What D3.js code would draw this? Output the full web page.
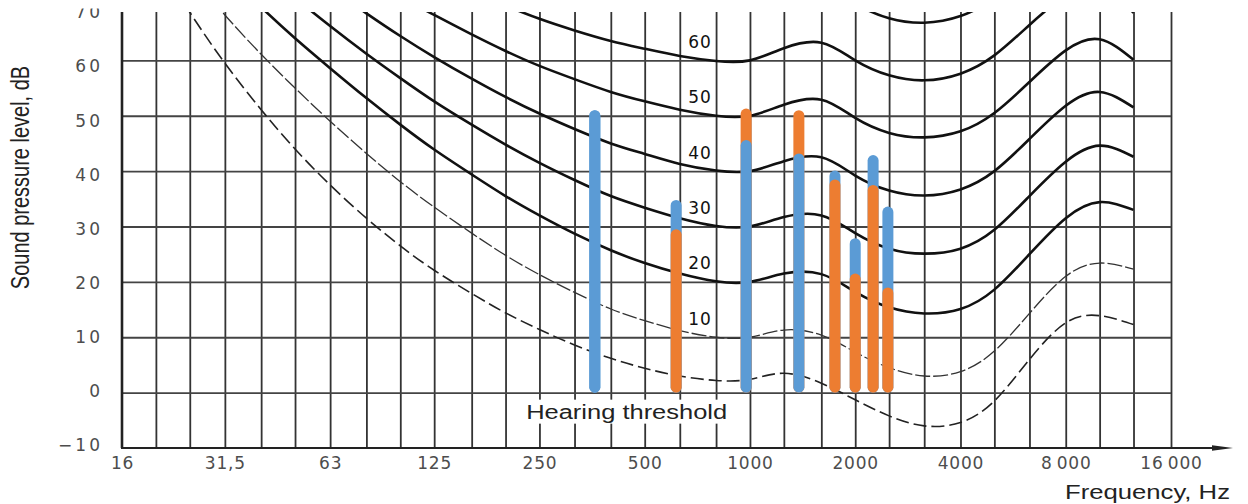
<!DOCTYPE html>
<html lang="en">
<head>
<meta charset="UTF-8">
<title>Equal loudness contours</title>
<script src="https://cdnjs.cloudflare.com/ajax/libs/d3/7.8.5/d3.min.js"></script>
<style>
  body { margin: 0; background: #fff; }
  svg { display: block; background: #fff; }
  .tick-lbl text { font-family: "DejaVu Sans", sans-serif; font-size: 17px; fill: #4d4d4d; }
  .curve-lbl { font-family: "DejaVu Sans", sans-serif; font-size: 17px; fill: #111; letter-spacing: 1px; }
  .title { font-family: "Liberation Sans", Arial, sans-serif; font-size: 20px; fill: #222; }
</style>
</head>
<body>
<svg width="1248" height="504"></svg>
<script>
// third-octave frequencies of the contour tables
var freqs = [20, 25, 31.5, 40, 50, 63, 80, 100, 125, 160, 200, 250, 315, 400, 500, 630, 800,
             1000, 1250, 1600, 2000, 2500, 3150, 4000, 5000, 6300, 8000, 10000, 12500];

var threshold = [78.5, 68.7, 59.5, 51.1, 44.0, 37.5, 31.5, 26.5, 22.1, 17.9, 14.4, 11.4, 8.6, 6.2, 4.4, 3.0, 2.2,
                 2.4, 3.5, 1.7, -1.3, -4.2, -6.0, -5.4, -1.5, 6.0, 12.6, 13.9, 12.3];
var phon10 = [83.8, 75.8, 68.2, 61.1, 55.0, 49.0, 43.2, 38.1, 33.5, 28.8, 24.8, 21.3, 18.1, 15.1, 13.0, 11.2, 10.0,
              10.0, 11.3, 10.4, 7.3, 4.5, 3.0, 3.8, 7.5, 14.3, 21.0, 23.4, 22.3];
var phon20 = [89.6, 82.7, 76.0, 69.6, 64.0, 58.6, 53.2, 48.4, 43.9, 39.4, 35.5, 32.0, 28.7, 25.7, 23.4, 21.5, 20.1,
              20.0, 21.5, 21.4, 18.2, 15.4, 14.3, 15.1, 18.6, 25.0, 31.5, 34.4, 33.0];
var phon30 = [94.9, 88.5, 82.4, 76.5, 71.3, 66.2, 61.2, 56.8, 52.6, 48.4, 44.8, 41.5, 38.4, 35.5, 33.4, 31.5, 30.1,
              30.0, 31.7, 32.0, 28.8, 26.0, 25.1, 26.0, 29.4, 35.5, 41.7, 44.6, 42.6];
var phon40 = [99.9, 93.9, 88.2, 82.6, 77.8, 73.1, 68.5, 64.4, 60.6, 56.7, 53.4, 50.4, 47.6, 45.0, 43.1, 41.3, 40.1,
              40.0, 41.8, 42.5, 39.2, 36.5, 35.6, 36.7, 40.0, 45.8, 51.8, 54.3, 51.5];
var phon50 = [104.7, 99.2, 93.7, 88.5, 84.0, 79.6, 75.4, 71.6, 68.2, 64.7, 61.7, 59.0, 56.6, 54.3, 52.6, 51.1, 50.0,
              50.0, 52.0, 52.9, 49.6, 46.9, 46.1, 47.2, 50.5, 56.1, 61.8, 63.8, 60.1];
var phon60 = [109.5, 104.2, 99.1, 94.2, 90.0, 85.9, 82.1, 78.7, 75.6, 72.5, 69.9, 67.5, 65.4, 63.5, 62.1, 60.8, 59.9,
              60.0, 62.2, 63.2, 60.0, 57.3, 56.4, 57.6, 60.9, 66.4, 71.7, 73.2, 68.6];
var phon70 = [114.3, 109.3, 104.4, 99.8, 95.9, 92.2, 88.6, 85.6, 82.9, 80.2, 77.9, 75.9, 74.2, 72.6, 71.5, 70.5, 69.8,
              70.0, 72.3, 73.5, 70.3, 67.6, 66.8, 68.0, 71.3, 76.6, 81.5, 82.5, 77.0];

var curveLabels = [10, 20, 30, 40, 50, 60];
var curveLabelFreq = 720;

// measured tones: frequency, split level, top level, lower / upper series
var barFreqs = [360, 615, 975, 1380, 1750, 2000, 2250, 2480];
var barSplit = [51.0, 29.5, 45.6, 43.2, 38.5, 21.5, 37.5, 19.0];
var barTop   = [51.0, 34.8, 51.3, 51.0, 40.1, 27.9, 42.9, 33.6];
var barLower = ["a", "b", "a", "a", "b", "b", "b", "b"];
var barUpper = ["a", "a", "b", "b", "a", "a", "a", "a"];

var gridFreqs = [20, 25, 31.5, 40, 50, 63, 80, 100, 125, 160, 200, 250, 315, 400, 500, 630, 800,
                 1000, 1250, 1600, 2000, 2500, 3150, 4000, 5000, 6300, 8000, 10000, 12500, 16000];
var xTickVals = [16, 31.5, 63, 125, 250, 500, 1000, 2000, 4000, 8000, 16000];
var xTickText = ["16", "31,5", "63", "125", "250", "500", "1000", "2000", "4000", "8\u2009000", "16\u2009000"];
var yGrid = [0, 10, 20, 30, 40, 50, 60];
var yTickVals = [-10, 0, 10, 20, 30, 40, 50, 60, 70];
var yTickText = ["\u221210", "0", "10", "20", "30", "40", "50", "60", "70"];

var svg = d3.select("svg");
var pL = 122, pR = 1171, pT = 12, pB = 448;

var x = d3.scaleLog().base(2).domain([16, 16000]).range([pL, pR]);
var y = d3.scaleLinear().domain([-10, 70]).range([448, 5]);
var yLab = d3.scaleLinear().domain([-10, 60]).range([445, 66.5]);
var color = d3.scaleOrdinal().domain(["a", "b"]).range(["#5B9BD5", "#ED7D31"]);

svg.append("defs").append("clipPath").attr("id", "plot")
    .append("rect").attr("x", pL).attr("y", pT).attr("width", pR - pL).attr("height", pB - pT);

// grid
var vgrid = svg.append("g")
    .attr("transform", "translate(0," + pB + ")")
    .call(d3.axisBottom(x).tickValues(gridFreqs).tickSize(-(pB - pT)).tickFormat(""));
vgrid.select(".domain").remove();
vgrid.selectAll("line").attr("stroke", "#333").attr("stroke-width", 1.8);

var hgrid = svg.append("g")
    .attr("transform", "translate(" + pL + ",0)")
    .call(d3.axisLeft(y).tickValues(yGrid).tickSize(-(pR - pL)).tickFormat(""));
hgrid.select(".domain").remove();
hgrid.selectAll("line").attr("stroke", "#444").attr("stroke-width", 1.9);

// hearing threshold label with white box
var ht = svg.append("text")
    .attr("class", "title")
    .attr("x", x(444)).attr("y", y(-3.4))
    .attr("dy", "0.36em")
    .attr("text-anchor", "middle")
    .attr("textLength", 201).attr("lengthAdjust", "spacingAndGlyphs")
    .text("Hearing threshold");
var bb = ht.node().getBBox();
svg.insert("rect", "text.title")
    .attr("x", bb.x - 3).attr("y", bb.y - 1)
    .attr("width", bb.width + 6).attr("height", bb.height + 2)
    .attr("fill", "#fff");

// contours
var line = d3.line()
    .x(function (d, i) { return x(freqs[i]); })
    .y(function (d) { return y(d); })
    .curve(d3.curveNatural);

var curves = [
    { id: "thr", values: threshold, width: 1.6, dash: "13,5", stroke: "#222" },
    { id: "p10", values: phon10, width: 1.3, dash: "15,3", stroke: "#333" },
    { id: "p20", values: phon20, width: 2.6, dash: null, stroke: "#111" },
    { id: "p30", values: phon30, width: 2.6, dash: null, stroke: "#111" },
    { id: "p40", values: phon40, width: 2.6, dash: null, stroke: "#111" },
    { id: "p50", values: phon50, width: 2.6, dash: null, stroke: "#111" },
    { id: "p60", values: phon60, width: 2.6, dash: null, stroke: "#111" },
    { id: "p70", values: phon70, width: 2.6, dash: null, stroke: "#111" }
];

svg.append("g").attr("clip-path", "url(#plot)")
    .selectAll("path").data(curves).enter().append("path")
    .attr("d", function (d) { return line(d.values); })
    .attr("fill", "none")
    .attr("stroke", function (d) { return d.stroke; })
    .attr("stroke-width", function (d) { return d.width; })
    .attr("stroke-dasharray", function (d) { return d.dash; });

svg.append("g").selectAll("text").data(curveLabels).enter().append("text")
    .attr("class", "curve-lbl")
    .attr("x", x(curveLabelFreq)).attr("y", function (d) { return y(d) - 18.5; })
    .attr("dy", "0.35em").attr("text-anchor", "middle")
    .text(function (d) { return d; });

// bars
var bw = 11;
var bars = svg.append("g").selectAll("g").data(barFreqs).enter().append("g");
bars.append("rect")
    .attr("x", function (d) { return x(d) - bw / 2; })
    .attr("y", function (d, i) { return y(barTop[i]); })
    .attr("width", bw)
    .attr("height", function (d, i) { return y(0) - y(barTop[i]); })
    .attr("rx", bw / 2)
    .attr("fill", function (d, i) { return color(barUpper[i]); });
bars.append("rect")
    .attr("x", function (d) { return x(d) - bw / 2; })
    .attr("y", function (d, i) { return y(barSplit[i]); })
    .attr("width", bw)
    .attr("height", function (d, i) { return y(0) - y(barSplit[i]); })
    .attr("rx", bw / 2)
    .attr("fill", function (d, i) { return color(barLower[i]); });

// axes
var xAxis = svg.append("g")
    .attr("class", "tick-lbl")
    .attr("transform", "translate(0," + pB + ")")
    .call(d3.axisBottom(x).tickValues(xTickVals).tickSize(0).tickPadding(9)
        .tickFormat(function (d, i) { return xTickText[i]; }));
xAxis.select(".domain").remove();
xAxis.selectAll("text").attr("letter-spacing", 0.8);

var yAxis = svg.append("g")
    .attr("class", "tick-lbl")
    .attr("transform", "translate(103,0)")
    .call(d3.axisLeft(yLab).tickValues(yTickVals).tickSize(0).tickPadding(0)
        .tickFormat(function (d, i) { return yTickText[i]; }));
yAxis.select(".domain").remove();
yAxis.selectAll("text").attr("letter-spacing", 3);

// top of the picture is cropped
svg.append("rect").attr("x", 0).attr("y", 0).attr("width", 118).attr("height", 8.5).attr("fill", "#fff");

svg.append("line")
    .attr("x1", pL).attr("x2", pL).attr("y1", pT).attr("y2", pB)
    .attr("stroke", "#222").attr("stroke-width", 2.6);
svg.append("line")
    .attr("x1", pL - 1).attr("x2", 1222).attr("y1", pB).attr("y2", pB)
    .attr("stroke", "#222").attr("stroke-width", 2);
svg.append("path")
    .attr("d", "M1212," + (pB - 2.8) + "L1233," + pB + "L1212," + (pB + 2.8) + "Z")
    .attr("fill", "#222");

svg.append("text")
    .attr("class", "title")
    .attr("x", 1065).attr("y", 499)
    .attr("textLength", 165).attr("lengthAdjust", "spacingAndGlyphs")
    .text("Frequency, Hz");

svg.append("text")
    .attr("class", "title")
    .attr("transform", "translate(29,177.5) scale(1.25,1) rotate(-90)")
    .attr("text-anchor", "middle")
    .text("Sound pressure level, dB");
</script>
</body>
</html>
